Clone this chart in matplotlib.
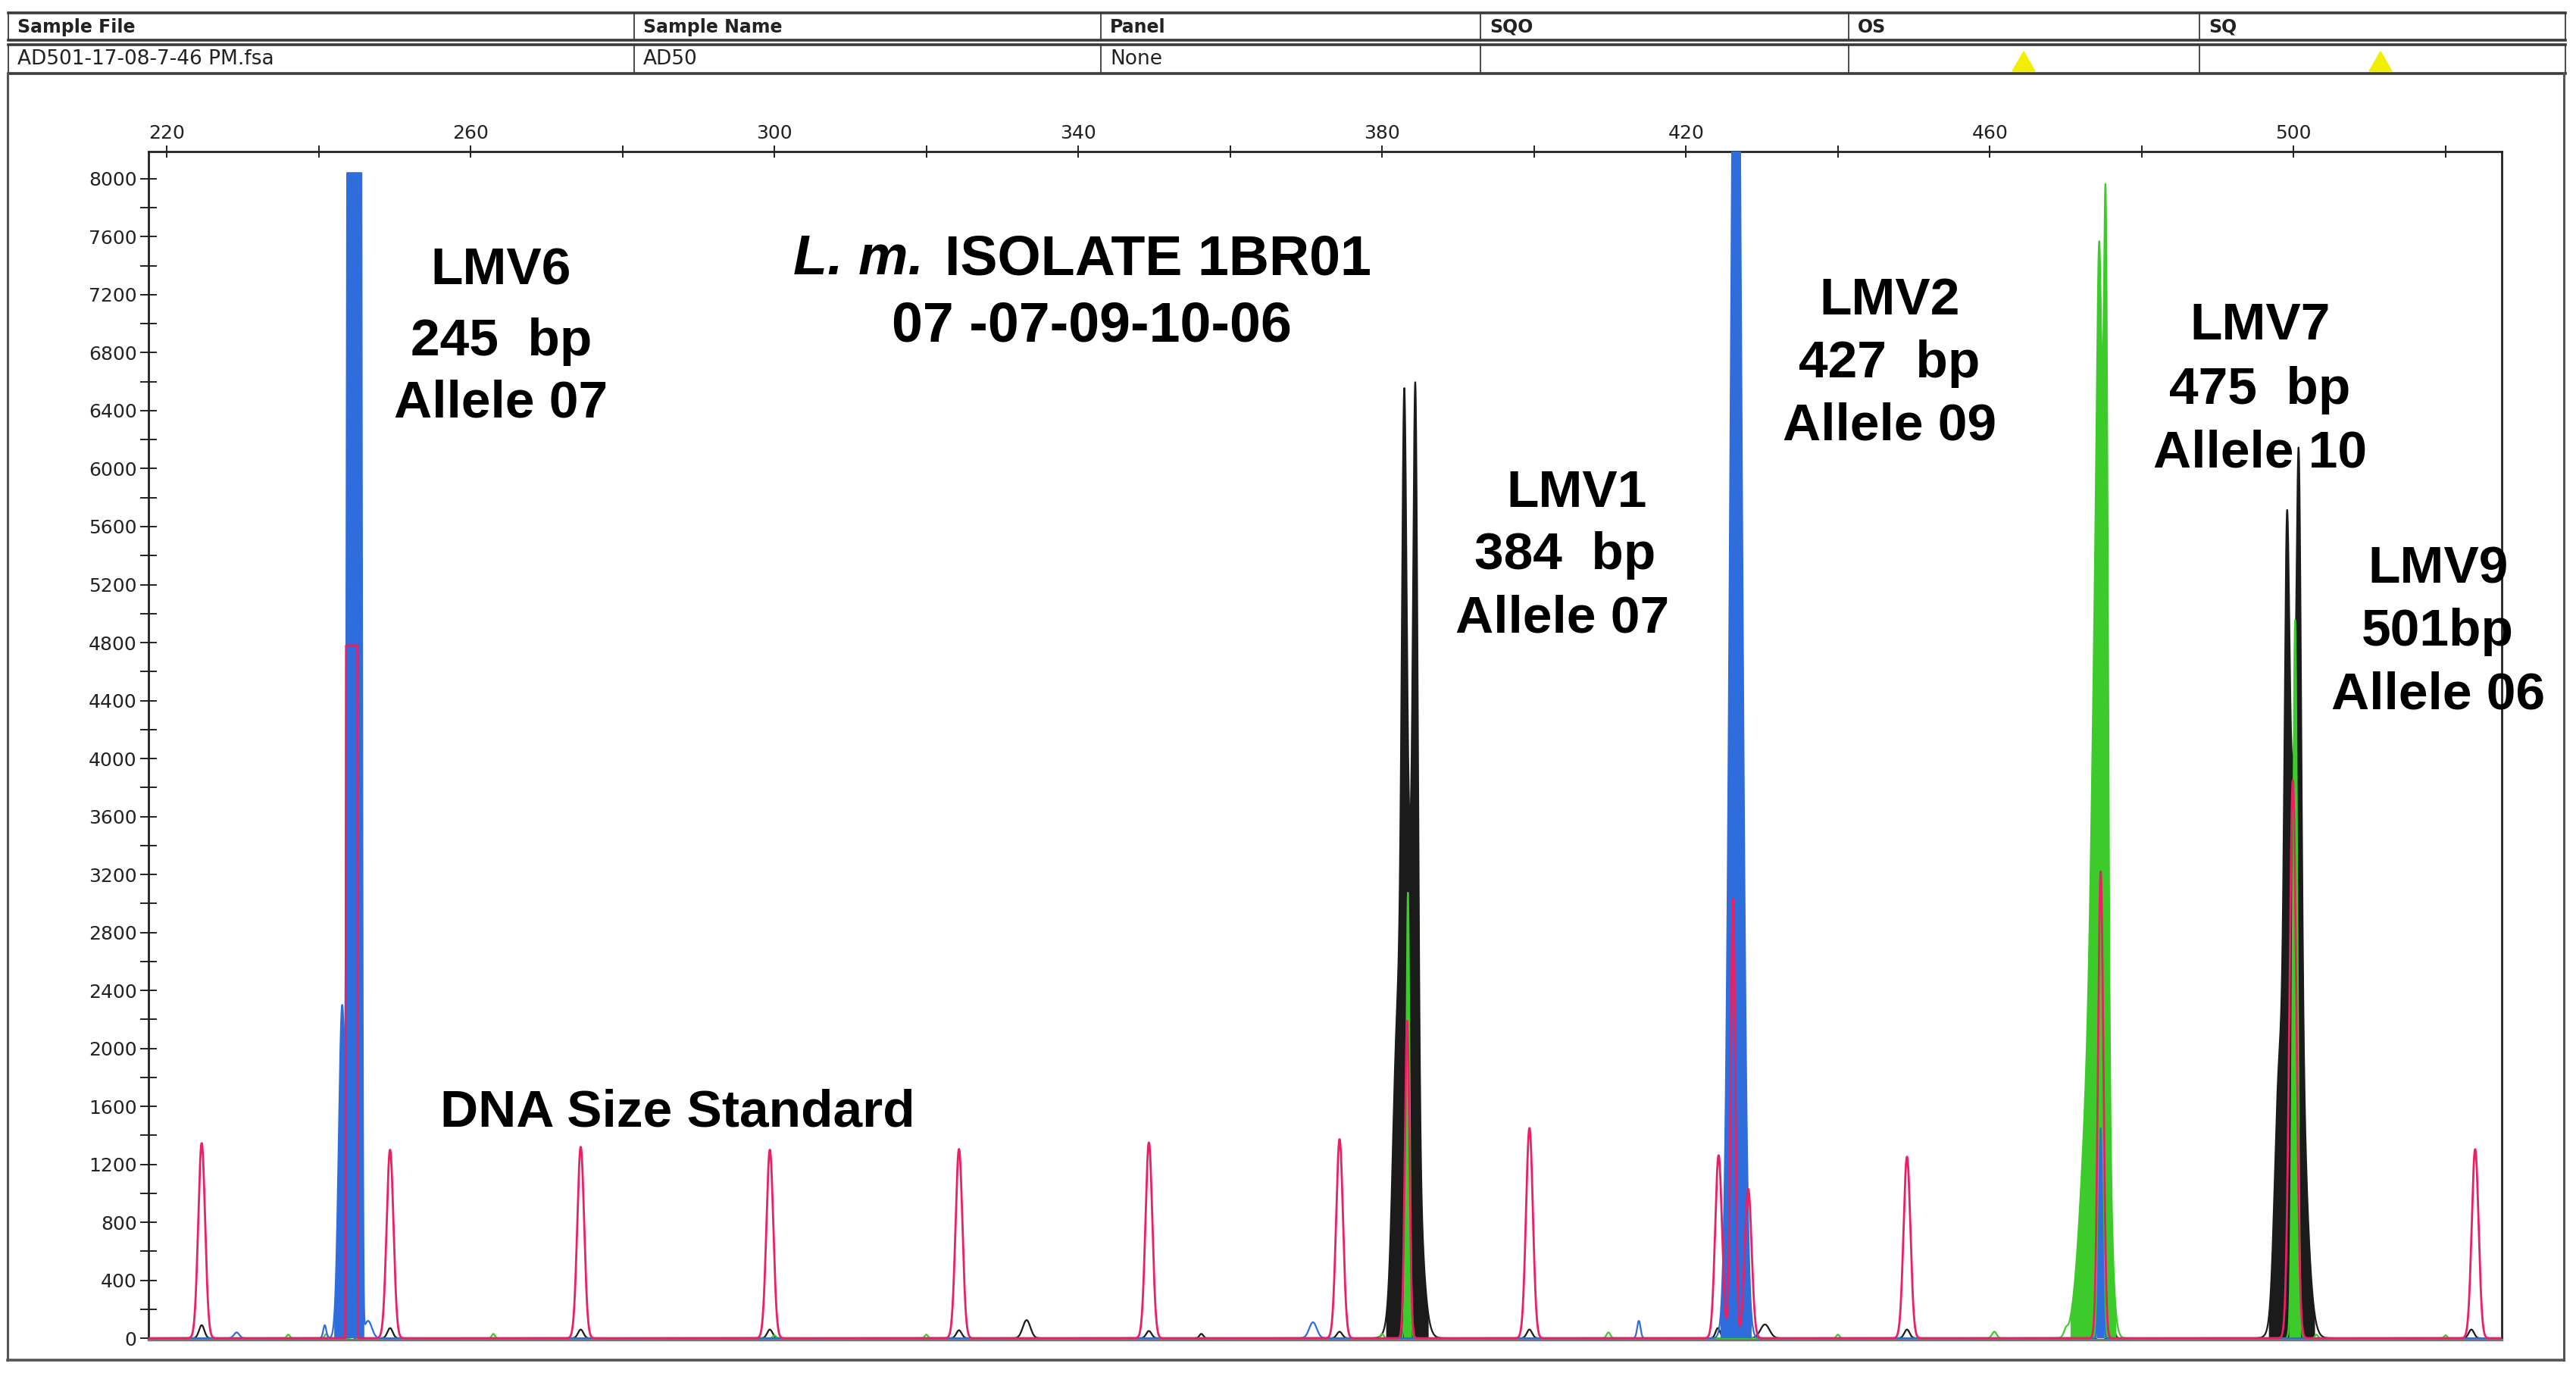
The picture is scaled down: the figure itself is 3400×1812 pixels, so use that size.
import numpy as np
import matplotlib.pyplot as plt
from matplotlib.patches import Polygon

# ---- peak tables (size in bp, height in RFU) ----
# each peak: centre, height, sigma, half width of a flat top

# red = size standard, plus pull-up under the big allele peaks
red_pos = [224.6, 249.4, 274.5, 299.4, 324.3, 349.3, 374.4, 399.4, 424.3, 428.2,
           449.1, 523.9, 244.35, 383.3, 426.2, 474.6, 499.9]
red_hgt = [1346, 1300, 1320, 1300, 1305, 1350, 1373, 1450, 1262, 1030,
           1252, 1304, 4780, 2190, 3030, 3220, 3850]
red_sig = [0.45, 0.45, 0.45, 0.45, 0.45, 0.45, 0.45, 0.45, 0.45, 0.45,
           0.45, 0.45, 0.03, 0.30, 0.30, 0.35, 0.45]
red_flat = [0, 0, 0, 0, 0, 0, 0, 0, 0, 0, 0, 0, 0.75, 0, 0, 0, 0]

# blue LMV6 (245 bp), saturated on the detector
lmv6_pos = [244.7, 243.1, 246.5]
lmv6_hgt = [9500, 2300, 120]
lmv6_sig = [0.15, 0.45, 0.50]
lmv6_flat = [0.85, 0, 0]
lmv6_sat = 8040

# rest of blue: LMV2 (427 bp) and small peaks
blue_pos = [426.6, 229.2, 240.8, 370.9, 413.8, 474.6]
blue_hgt = [11000, 40, 90, 110, 120, 1450]
blue_sig = [0.70, 0.35, 0.20, 0.50, 0.22, 0.22]

# black = LMV1 (384 bp) and LMV9 (501 bp)
black_pos = [383.4, 382.9, 384.4, 381.8, 499.9, 499.1, 500.7, 497.9,
             224.6, 249.4, 274.5, 299.4, 324.3, 333.2, 349.3, 356.2, 374.4,
             399.4, 424.2, 430.4, 449.1, 474.6, 476.2, 523.4, 244.0]
black_hgt = [3300, 3490, 4380, 900, 3800, 2640, 3117, 900,
             90, 70, 60, 60, 55, 125, 50, 30, 45,
             60, 70, 95, 60, 110, 80, 60, 50]
black_sig = [1.10, 0.30, 0.30, 0.50, 1.15, 0.30, 0.30, 0.50,
             0.35, 0.35, 0.35, 0.35, 0.35, 0.50, 0.35, 0.25, 0.35,
             0.35, 0.30, 0.60, 0.35, 0.20, 0.25, 0.35, 0.30]

# green = LMV7 (475 bp) plus small bleed-through
green_pos = [474.5, 474.4, 475.3, 473.0, 383.4, 500.2,
             244.5, 236.0, 241.0, 263.0, 300.0, 320.0, 380.0, 409.8, 440.0,
             460.6, 470.0, 503.0, 520.0]
green_hgt = [5800, 1140, 4100, 1500, 3075, 4955,
             70, 25, 30, 30, 20, 25, 30, 40, 25,
             45, 40, 25, 20]
green_sig = [0.80, 0.25, 0.25, 1.10, 0.22, 0.30,
             0.15, 0.20, 0.20, 0.20, 0.20, 0.20, 0.20, 0.25, 0.20,
             0.30, 0.25, 0.20, 0.20]

# header table
head_labels = ["Sample File", "Sample Name", "Panel", "SQO", "OS", "SQ"]
row_values = ["AD501-17-08-7-46 PM.fsa", "AD50", "None", "", "", ""]

x_ticks = np.arange(220, 501, 40)
y_ticks = np.arange(0, 8001, 400)

RED = "#ec1f63"
BLUE = "#2e6ddb"
GREEN = "#3ccb2a"
BLACK = "#1b1b1b"

bp = np.linspace(217.6, 527.4, 40000)


def trace(pos, hgt, sig, flat=None):
    if flat is None:
        flat = [0] * len(pos)
    y = np.zeros_like(bp)
    for c, h, s, p in zip(pos, hgt, sig, flat):
        d = np.maximum(np.abs(bp - c) - p, 0)
        y += h * np.exp(-0.5 * (d / s) ** 2)
    return y


fig = plt.figure(figsize=(34, 18.12), dpi=100)

# page furniture (header table and outer frame) in pixel coordinates
pg = fig.add_axes([0, 0, 1, 1], zorder=0)
pg.set_xlim(0, 3400)
pg.set_ylim(1812, 0)
pg.axis("off")

col_x = [11, 837, 1453, 1954, 2440, 2903, 3386]
for top, bot in [(17, 53), (59, 97)]:
    pg.plot([col_x[0], col_x[-1]], [top, top], color="#3a3a3a", lw=2.6)
    pg.plot([col_x[0], col_x[-1]], [bot, bot], color="#3a3a3a", lw=2.6)
    for cx in col_x:
        pg.plot([cx, cx], [top, bot], color="#3a3a3a", lw=1.3)
for i, lab in enumerate(head_labels):
    pg.text(col_x[i] + 12, 36, lab, fontsize=17, fontweight="bold",
            ha="left", va="center", color="#222222")
for i, val in enumerate(row_values):
    pg.text(col_x[i] + 12, 78, val, fontsize=19,
            ha="left", va="center", color="#222222")
for tx in [2671, 3142]:
    pg.add_patch(Polygon([[tx - 15, 94], [tx + 15, 94], [tx, 68]],
                         closed=True, color="#f2ee00"))

pg.plot([10, 10], [97, 1795], color="#555555", lw=2.2)
pg.plot([3384, 3384], [97, 1795], color="#555555", lw=2.2)
pg.plot([10, 3384], [1795, 1795], color="#555555", lw=2.6)

# the electropherogram
ax = fig.add_axes([196 / 3400, 44 / 1812, 3106 / 3400, 1568 / 1812], zorder=1)
ax.patch.set_alpha(0)

blue = np.minimum(trace(lmv6_pos, lmv6_hgt, lmv6_sig, lmv6_flat), lmv6_sat)
blue += trace(blue_pos, blue_hgt, blue_sig)

layers = [
    (trace(black_pos, black_hgt, black_sig), BLACK, True, 2),
    (trace(green_pos, green_hgt, green_sig), GREEN, True, 3),
    (blue, BLUE, True, 4),
    (trace(red_pos, red_hgt, red_sig, red_flat), RED, False, 5),
]
for y, col, filled, z in layers:
    if filled:
        ax.fill_between(bp, 0, y, where=y > 150, color=col, lw=0, zorder=z)
    ax.plot(bp, y, color=col, lw=2.0 if col == RED else 1.6, zorder=z + 0.1)

ax.set_xlim(217.6, 527.4)
ax.set_ylim(-10, 8188)

ax.xaxis.tick_top()
ax.set_xticks(x_ticks)
ax.set_xticks(np.arange(240, 521, 40), minor=True)
ax.set_yticks(y_ticks)
ax.set_yticks(np.arange(200, 8001, 400), minor=True)
ax.tick_params(axis="x", which="both", top=True, bottom=False, direction="inout",
               length=11, width=1.4, labelsize=18, pad=3, colors="#222222")
ax.tick_params(axis="y", which="both", left=True, right=False, direction="inout",
               length=16, width=1.4, labelsize=18, pad=3, colors="#222222")
for side in ["top", "left", "right"]:
    ax.spines[side].set_color("#222222")
    ax.spines[side].set_linewidth(2)
ax.spines["bottom"].set_color("#777777")
ax.spines["bottom"].set_linewidth(2.5)

# annotations
lab = dict(fontsize=50, fontweight="bold", family="Liberation Sans",
           ha="center", va="baseline", color="black", zorder=10)
ax.text(264.0, 7268, "LMV6", **lab)
ax.text(264.0, 6782, "245  bp", **lab)
ax.text(264.0, 6358, "Allele 07", **lab)

ax.text(405.6, 5736, "LMV1", **lab)
ax.text(404.1, 5307, "384  bp", **lab)
ax.text(403.7, 4873, "Allele 07", **lab)

ax.text(446.8, 7064, "LMV2", **lab)
ax.text(446.8, 6630, "427  bp", **lab)
ax.text(446.8, 6201, "Allele 09", **lab)

ax.text(495.6, 6891, "LMV7", **lab)
ax.text(495.6, 6447, "475  bp", **lab)
ax.text(495.6, 6013, "Allele 10", **lab)

ax.text(519.0, 5208, "LMV9", **lab)
ax.text(519.0, 4779, "501bp", **lab)
ax.text(519.0, 4345, "Allele 06", **lab)

ax.text(287.3, 1464, "DNA Size Standard", **lab)

ttl = dict(lab, fontsize=53)
ax.text(319.6, 7341, "L. m.", **dict(ttl, ha="right", style="italic"))
ax.text(322.4, 7341, "ISOLATE 1BR01", **dict(ttl, ha="left"))
ax.text(341.8, 6876, "07 -07-09-10-06", **ttl)

fig.savefig("out.png", dpi=100, facecolor="white")
